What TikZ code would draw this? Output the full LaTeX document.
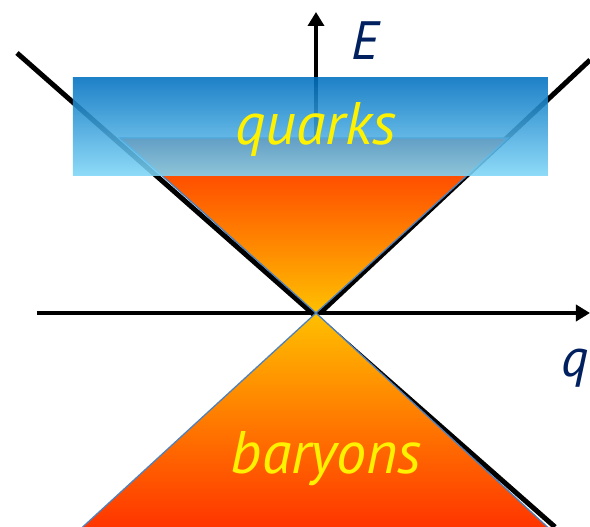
\documentclass[tikz,border=0pt]{standalone}
\usepackage{fontspec}
\setmainfont{PT Sans}
\usetikzlibrary{arrows.meta}
\definecolor{bandtop}{HTML}{0070C0}
\definecolor{bandbot}{HTML}{7FD6F7}
\definecolor{hotred}{HTML}{FF3000}
\definecolor{hotmid}{HTML}{FF4C00}
\definecolor{warmyel}{HTML}{FFC000}
\definecolor{edgeblue}{HTML}{4F81BD}
\definecolor{navy}{HTML}{002060}
\tikzset{
  ax/.style={line width=4.5pt,-{Triangle[length=14pt,width=16pt]}},
  cone/.style={line width=5pt},
  hot/.style={draw=edgeblue,line width=1.3pt},
  band/.style={top color=bandtop,bottom color=bandbot,opacity=0.88},
  phase/.style={text=yellow,font=\itshape\fontsize{60}{60}\selectfont},
  axlab/.style={text=navy,font=\itshape\fontsize{54}{54}\selectfont}
}

\begin{document}
\begin{tikzpicture}[x=1pt,y=1pt]
\useasboundingbox (-316,-214) rectangle (274,313);
\clip (-316,-214) rectangle (274,313);
\coordinate (O) at (0,0);
\coordinate (xs) at (-279,0);
\coordinate (xe) at (274,0);
\coordinate (ye) at (0,301);
\coordinate (ul) at (-299,260);
\coordinate (lr) at (239,-214);
\coordinate (ol) at (4,0);
\coordinate (ur) at (274,253);
\draw[ax] (xs) -- (xe);
\draw[ax] (O) -- (ye);
\draw[cone] (ul) -- (lr);
\draw[cone] (ol) -- (ur);
\shade[hot,top color=hotred,middle color=hotmid,bottom color=warmyel] (O) -- (-196,175) -- (192,175) -- cycle;
\shade[hot,top color=warmyel,bottom color=hotred] (O) -- (240,-222) -- (-242,-222) -- cycle;
\shade[band] (-243,137) rectangle (232,235);
\node[phase,anchor=base] (quarks) at (0,168) {quarks};
\node[phase,anchor=base] (baryons) at (10,-161) {baryons};
\node[axlab,anchor=base] (E) at (49,253) {E};
\node[axlab,anchor=base east,inner sep=1pt] (q) at (274,-64) {q};
\end{tikzpicture}
\end{document}
